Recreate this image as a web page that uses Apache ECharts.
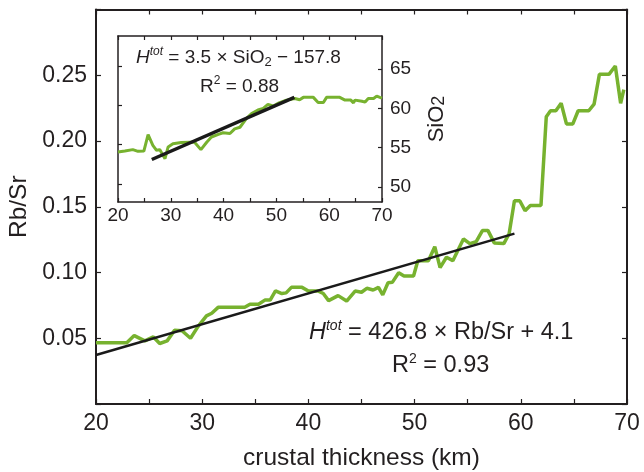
<!DOCTYPE html>
<html><head><meta charset="utf-8">
<script src="https://cdn.jsdelivr.net/npm/echarts@6/dist/echarts.min.js"></script>
<style>html,body{margin:0;padding:0;background:#fff}#c{width:644px;height:472px}</style>
</head><body><div id="c"></div>
<script>
// ---- main panel: Rb/Sr vs crustal thickness ----
const mainThickness = [20,21,22,22.9,23.6,24.6,25.4,26.0,26.7,27.4,28.1,28.9,29.6,30.4,30.9,31.5,32.5,33.5,34.0,34.5,35.3,35.9,36.4,36.9,37.5,37.9,38.4,39.4,40.0,40.9,41.4,41.9,42.8,43.6,44.4,45.0,45.5,46.1,46.6,47.0,47.5,47.9,48.5,49.0,49.9,50.3,51.3,51.9,52.4,53.0,53.6,54.6,55.2,55.8,56.4,56.9,57.5,58.4,58.9,59.4,59.9,60.4,60.9,61.9,62.4,62.8,63.3,63.8,64.3,64.9,65.4,66.4,66.9,67.4,68.3,68.9,69.4,69.7];
const mainRbSr = [0.0465,0.0465,0.0465,0.0465,0.052,0.048,0.051,0.046,0.048,0.056,0.0557,0.050,0.0588,0.067,0.069,0.0735,0.0735,0.0735,0.0735,0.0758,0.0758,0.079,0.079,0.086,0.084,0.0845,0.0887,0.0887,0.086,0.086,0.084,0.0786,0.0824,0.0783,0.0859,0.085,0.088,0.0867,0.0887,0.083,0.0922,0.0925,0.0998,0.0973,0.0973,0.109,0.109,0.1196,0.1037,0.1116,0.109,0.1255,0.122,0.1234,0.132,0.132,0.1225,0.122,0.1295,0.1546,0.1546,0.147,0.151,0.151,0.2185,0.223,0.223,0.2287,0.213,0.213,0.223,0.223,0.228,0.2507,0.2507,0.257,0.2287,0.239];
const mainFitThickness = [20, 59.4];
const mainFitRbSr = [0.0373, 0.1296];
const mainXTickLabels = [20,30,40,50,60,70];
const mainYTickLabels = [0.05,0.10,0.15,0.20,0.25];

// ---- inset: SiO2 vs crustal thickness ----
const insetThickness = [20,21.3,22.8,23.8,24.9,25.7,26.6,27.3,27.9,28.9,29.5,30.4,32.0,33.6,34.5,35.7,36.8,37.7,39.0,39.9,41.2,42.1,43.1,44.3,45.3,46.5,47.5,48.4,49.4,50.5,51.9,53.5,54.4,55.1,57.0,57.9,58.9,59.5,62.0,63.0,64.1,64.6,64.9,66.2,66.8,67.4,68.4,69.0,69.6,70];
const insetSiO2 = [54.45,54.58,54.76,54.54,54.58,56.67,55.3,54.67,54.76,53.6,55.1,55.5,55.65,55.7,55.7,54.76,55.7,56.36,56.7,56.9,56.8,57.4,57.6,58.7,59.35,59.8,60.0,60.5,60.3,60.7,61.05,61.26,61.1,61.4,61.4,60.75,60.75,61.4,61.4,61.05,61.05,60.7,61.05,60.9,60.8,61.26,61.26,61.56,61.4,61.3];
const insetFitThickness = [26.4, 53.4];
const insetFitSiO2 = [53.5, 61.4];
const insetXTickLabels = [20,30,40,50,60,70];
const insetYTickLabels = [50,55,60,65];
const insetLeftTicks = [50.4,55.4,60.4,65.4];

const zip = (a, b) => a.map((v, i) => [v, b[i]]);
const INK = '#231f20';
const GREEN = '#77b22f';
const FONT = 'Liberation Sans, Arial, sans-serif';

const chart = echarts.init(document.getElementById('c'), null, {renderer: 'canvas'});

function xAx(grid, pos, showLabel, fs, tickLen, lw, labels) {
  return {
    type: 'value', gridIndex: grid, position: pos, min: 20, max: 70, interval: 5,
    axisLine: {show: true, onZero: false, lineStyle: {color: INK, width: lw}},
    axisTick: {show: true, inside: true, length: tickLen, lineStyle: {color: INK, width: 1.2}},
    axisLabel: {show: showLabel, fontSize: fs, color: INK, fontFamily: FONT, margin: grid === 0 ? 8 : 4,
      formatter: v => (labels.includes(v) ? String(v) : '')},
    splitLine: {show: false}
  };
}

const option = {
  animation: false,
  backgroundColor: '#fff',
  grid: [
    {left: 96, top: 9.5, width: 531, height: 394.5, show: false, containLabel: false, outerBoundsMode: 'none'},
    {left: 118, top: 36, width: 264, height: 166, show: true, backgroundColor: '#fff', borderWidth: 0, z: 5, containLabel: false, outerBoundsMode: 'none'}
  ],
  xAxis: [
    Object.assign(xAx(0, 'bottom', true, 23, 5, 2, mainXTickLabels), {
      name: 'crustal thickness (km)', nameLocation: 'middle', nameGap: 42,
      nameTextStyle: {fontSize: 24.5, color: INK, fontFamily: FONT}
    }),
    xAx(0, 'top', false, 23, 5, 2, mainXTickLabels),
    Object.assign(xAx(1, 'bottom', true, 19, 4, 1.5, insetXTickLabels), {z: 6}),
    Object.assign(xAx(1, 'top', false, 19, 4, 1.5, insetXTickLabels), {z: 6})
  ],
  yAxis: [
    {
      type: 'value', gridIndex: 0, position: 'left', min: 0, max: 0.3, interval: 0.05,
      axisLine: {show: true, lineStyle: {color: INK, width: 2}},
      axisTick: {show: true, inside: true, length: 5, lineStyle: {color: INK, width: 1.2}},
      axisLabel: {fontSize: 23, color: INK, fontFamily: FONT, margin: 9,
        formatter: v => (mainYTickLabels.some(t => Math.abs(t - v) < 1e-6) ? v.toFixed(2) : '')},
      splitLine: {show: false},
      name: 'Rb/Sr', nameLocation: 'middle', nameGap: 60, nameRotate: 90,
      nameTextStyle: {fontSize: 24.5, color: INK, fontFamily: FONT}
    },
    {
      type: 'value', gridIndex: 0, position: 'right', min: 0, max: 0.3, interval: 0.05,
      axisLine: {show: true, lineStyle: {color: INK, width: 2}},
      axisTick: {show: true, inside: true, length: 5, lineStyle: {color: INK, width: 1.2}},
      axisLabel: {show: false}, splitLine: {show: false}
    },
    {
      type: 'value', gridIndex: 1, position: 'right', min: 48.1, max: 69.2, z: 6,
      axisLine: {show: true, lineStyle: {color: INK, width: 1.5}},
      axisTick: {show: true, inside: true, length: 4, customValues: insetYTickLabels, lineStyle: {color: INK, width: 1.2}},
      axisLabel: {fontSize: 19, color: INK, fontFamily: FONT, margin: 8, customValues: insetYTickLabels},
      splitLine: {show: false},
      name: '{a|SiO}{b|2}', nameLocation: 'middle', nameGap: 44, nameRotate: 90,
      nameTextStyle: {fontSize: 22, color: INK, fontFamily: FONT,
        rich: {a: {fontSize: 22, color: INK, fontFamily: FONT}, b: {fontSize: 18, color: INK, fontFamily: FONT, verticalAlign: 'bottom'}}}
    },
    {
      type: 'value', gridIndex: 1, position: 'left', min: 48.1, max: 69.2, z: 6,
      axisLine: {show: true, lineStyle: {color: INK, width: 1.5}},
      axisTick: {show: true, inside: true, length: 4, customValues: insetLeftTicks, lineStyle: {color: INK, width: 1.2}},
      axisLabel: {show: false}, splitLine: {show: false}
    }
  ],
  series: [
    {type: 'line', xAxisIndex: 0, yAxisIndex: 0, data: zip(mainThickness, mainRbSr), showSymbol: false,
      lineStyle: {color: GREEN, width: 3.5}, z: 2},
    {type: 'line', xAxisIndex: 0, yAxisIndex: 0, data: zip(mainFitThickness, mainFitRbSr), showSymbol: false,
      lineStyle: {color: '#1a1a1a', width: 2.5}, z: 3},
    {type: 'line', xAxisIndex: 2, yAxisIndex: 2, data: zip(insetThickness, insetSiO2), showSymbol: false,
      lineStyle: {color: GREEN, width: 3}, z: 7},
    {type: 'line', xAxisIndex: 2, yAxisIndex: 2, data: zip(insetFitThickness, insetFitSiO2), showSymbol: false,
      lineStyle: {color: '#1a1a1a', width: 3.5}, z: 8}
  ],
  graphic: [
    {type: 'text', left: 309, top: 319, z: 20, style: {
      text: '{i|H}{s|tot}{n| = 426.8 × Rb/Sr + 4.1}', fill: INK, font: '23px ' + FONT,
      rich: {
        i: {fontSize: 23.5, fontStyle: 'italic', fontFamily: FONT, fill: INK, lineHeight: 27},
        s: {fontSize: 14, fontStyle: 'italic', fontFamily: FONT, fill: INK, verticalAlign: 'top'},
        n: {fontSize: 23.5, fontFamily: FONT, fill: INK, lineHeight: 27}
      }}},
    {type: 'text', left: 392, top: 352, z: 20, style: {
      text: '{n|R}{s|2}{n| = 0.93}', fill: INK, font: '23px ' + FONT,
      rich: {
        s: {fontSize: 14, fontFamily: FONT, fill: INK, verticalAlign: 'top'},
        n: {fontSize: 23.5, fontFamily: FONT, fill: INK, lineHeight: 27}
      }}},
    {type: 'text', left: 136, top: 46, z: 20, style: {
      text: '{i|H}{s|tot}{n| = 3.5 × SiO}{b|2}{n| − 157.8}', fill: INK, font: '19px ' + FONT,
      rich: {
        i: {fontSize: 19, fontStyle: 'italic', fontFamily: FONT, fill: INK, lineHeight: 23},
        s: {fontSize: 12, fontStyle: 'italic', fontFamily: FONT, fill: INK, verticalAlign: 'top'},
        b: {fontSize: 13, fontFamily: FONT, fill: INK, verticalAlign: 'bottom'},
        n: {fontSize: 19, fontFamily: FONT, fill: INK, lineHeight: 23}
      }}},
    {type: 'text', left: 200, top: 75, z: 20, style: {
      text: '{n|R}{s|2}{n| = 0.88}', fill: INK, font: '19px ' + FONT,
      rich: {
        s: {fontSize: 12, fontFamily: FONT, fill: INK, verticalAlign: 'top'},
        n: {fontSize: 19, fontFamily: FONT, fill: INK, lineHeight: 23}
      }}}
  ]
};
chart.setOption(option);
</script>
</body></html>
